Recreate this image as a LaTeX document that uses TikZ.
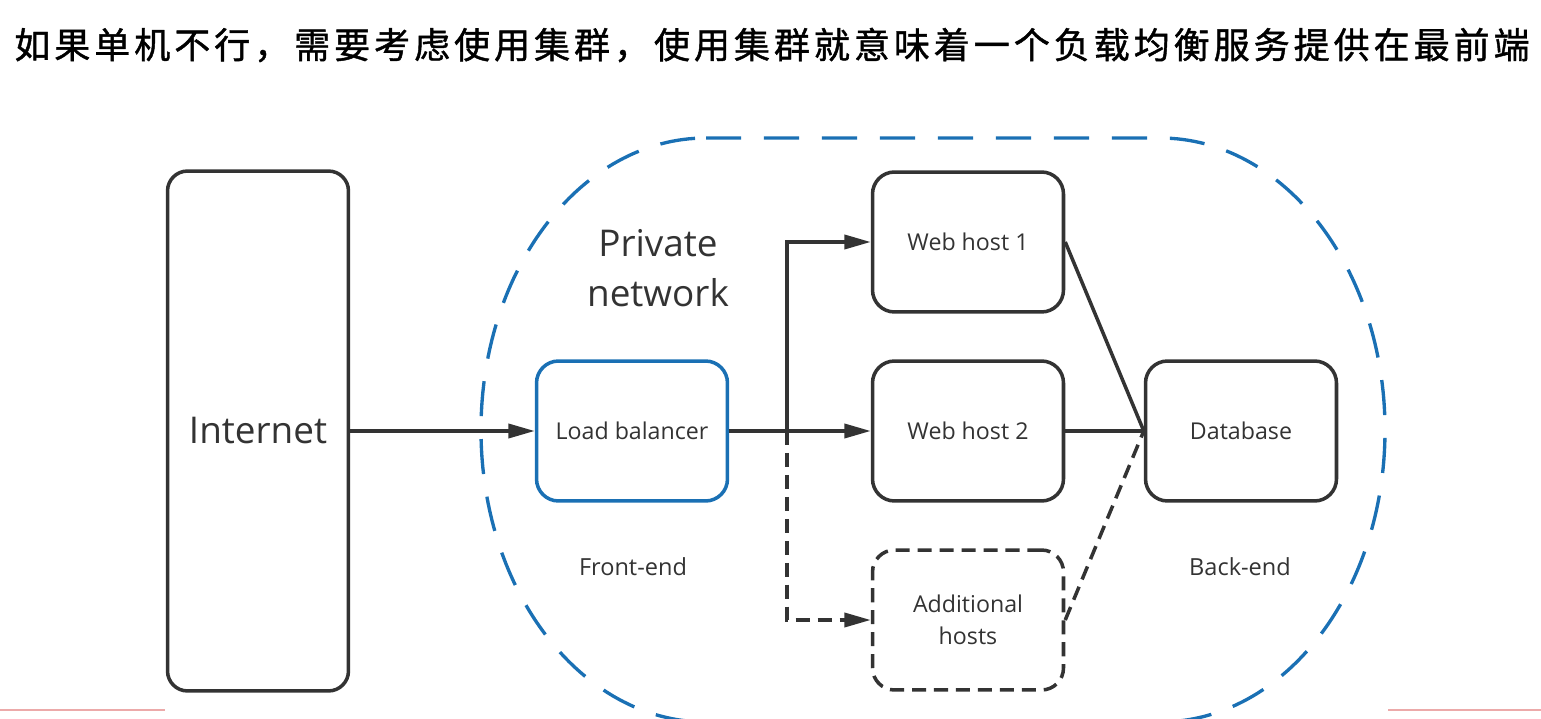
\documentclass[tikz,border=0pt]{standalone}
\usepackage{fontspec}
\setmainfont{Open Sans}
\newfontfamily\cjk{Noto Sans CJK SC}[LetterSpace=11, FakeBold=1.2]
\usetikzlibrary{arrows.meta,positioning}
\definecolor{netblue}{RGB}{26,112,180}
\definecolor{inkgray}{RGB}{51,51,51}
\definecolor{rulered}{RGB}{236,170,170}

\begin{document}
\begin{tikzpicture}[x=0.02cm,y=-0.02cm,
                every node/.style = {text=inkgray},
                hostbox/.style = {draw=inkgray, line width=2pt, rounded corners=0.44cm,
                                  minimum width=3.82cm, minimum height=2.8cm, align=center,
                                  font=\fontsize{13.2}{18}\selectfont},
                link/.style = {draw=inkgray, line width=2pt},
                arr/.style = {link, -{Triangle[length=15pt,width=8pt]}},
                maybe/.style = {dash pattern=on 8pt off 4.5pt},
                note/.style = {font=\fontsize{13.4}{18}\selectfont}
                ]
    \useasboundingbox (0,0) rectangle (1541,719);

    \node[text=black] (title) at (772,45) {\cjk\fontsize{20.5}{22}\selectfont 如果单机不行，需要考虑使用集群，使用集群就意味着一个负载均衡服务提供在最前端};

    \draw[netblue, line width=1.9pt, dash pattern=on 20pt off 13pt]
        (706,138) -- (1160,138) arc[start angle=-90, end angle=90, x radius=225, y radius=292]
        -- (706,722) arc[start angle=90, end angle=270, x radius=225, y radius=292] -- cycle;

    \node[hostbox, minimum width=3.62cm, minimum height=10.4cm, rounded corners=0.4cm,
          font=\fontsize{21}{25}\selectfont] (internet) at (258,431) {Internet};
    \node[hostbox, draw=netblue] (balancer) at (632,431) {Load balancer};
    \node[hostbox] (web1) at (968,242) {Web host 1};
    \node[hostbox] (web2) at (968,431) {Web host 2};
    \node[hostbox, maybe] (extra) at (968,620) {Additional\\hosts};
    \node[hostbox] (db) at (1241,431) {Database};

    \node[font=\fontsize{21}{28.5}\selectfont, align=center] (private) at (658,268) {Private\\network};
    \node[note] (front) at (633,567) {Front-end};
    \node[note] (back) at (1240,567) {Back-end};

    \coordinate (fork) at (787,431);
    \draw[arr] (internet) -- (balancer);
    \draw[arr] (balancer) -- (web2);
    \draw[arr] (fork) |- (web1);
    \draw[arr, maybe] (fork) |- (extra);
    \draw[link] (web1.east) -- (db.west);
    \draw[link] (web2) -- (db);
    \draw[link, maybe] (extra.east) -- (db.west);

    \draw[rulered, line width=1pt] (0,710) -- (165,710);
    \draw[rulered, line width=1pt] (1388,710) -- (1541,710);
\end{tikzpicture}
\end{document}
